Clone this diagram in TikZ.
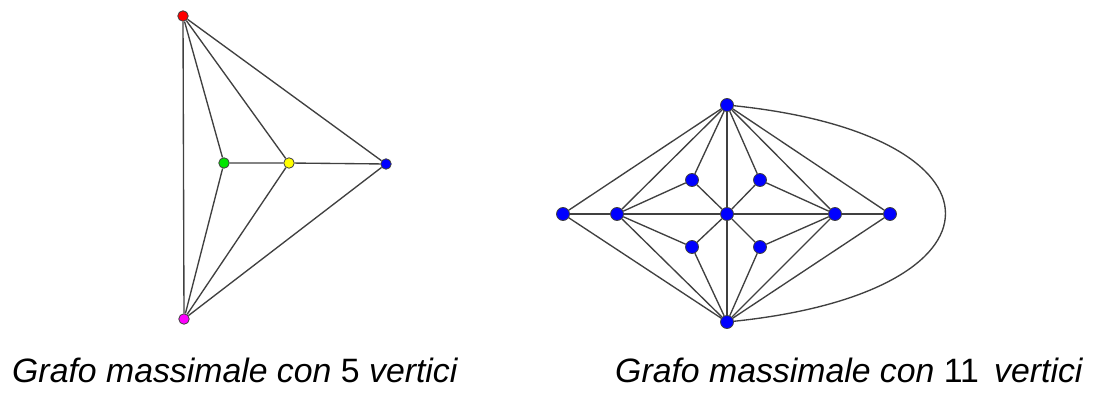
\documentclass[tikz,border=0pt]{standalone}
\usepackage{fontspec}
\setmainfont{Liberation Sans}
\usetikzlibrary{positioning}
\definecolor{EdgeGray}{RGB}{64, 64, 64}
\definecolor{VRed}{RGB}{255, 0, 0}
\definecolor{VGreen}{RGB}{0, 230, 0}
\definecolor{VYellow}{RGB}{255, 255, 0}
\definecolor{VBlue}{RGB}{0, 0, 255}
\definecolor{VMagenta}{RGB}{255, 0, 255}

\begin{document}
\begin{tikzpicture}[x=1pt, y=-1pt,
    vtx/.style={circle, draw=EdgeGray, line width=0.8pt, inner sep=0pt, minimum size=10.5pt},
    bigvtx/.style={vtx, fill=VBlue, minimum size=13pt},
    edge/.style={draw=EdgeGray, line width=1.35pt},
    caption/.style={anchor=base west, inner sep=0pt, font=\fontsize{33.8}{40}\selectfont\itshape}]
    \useasboundingbox (0,0) rectangle (1095,409);

    % grafo con 5 vertici
    \node[vtx, fill=VRed] (Rd) at (183,16) {};
    \node[vtx, fill=VMagenta] (Mg) at (184,319) {};
    \node[vtx, fill=VGreen] (Gr) at (224,163) {};
    \node[vtx, fill=VYellow] (Ye) at (289,163) {};
    \node[vtx, fill=VBlue] (Bl) at (386,164) {};

    \draw[edge] (Rd) -- (Mg);
    \foreach \v in {Gr, Ye, Bl} {
        \draw[edge] (Rd) -- (\v);
        \draw[edge] (Mg) -- (\v);
    }
    \draw[edge] (Gr) -- (Ye) -- (Bl);

    % grafo con 11 vertici
    \node[bigvtx] (N) at (727,105) {};
    \node[bigvtx] (S) at (727,322) {};
    \node[bigvtx] (W) at (563,214) {};
    \node[bigvtx] (W2) at (617,214) {};
    \node[bigvtx] (C) at (727,214) {};
    \node[bigvtx] (E2) at (835,214) {};
    \node[bigvtx] (E) at (890,214) {};
    \node[bigvtx] (NW) at (692,180) {};
    \node[bigvtx] (NE) at (760,180) {};
    \node[bigvtx] (SW) at (692,247) {};
    \node[bigvtx] (SE) at (760,247) {};

    \foreach \v in {W, W2, NW, C, NE, E2, E} \draw[edge] (N) -- (\v);
    \foreach \v in {W, W2, SW, C, SE, E2, E} \draw[edge] (S) -- (\v);
    \draw[edge] (W) -- (W2) -- (C) -- (E2) -- (E);
    \draw[edge] (W2) -- (NW) -- (C) -- (NE) -- (E2);
    \draw[edge] (W2) -- (SW) -- (C) -- (SE) -- (E2);
    \draw[edge] (N) .. controls (1016,135) and (1016,292) .. (S);

    \node[caption] (capA) at (12,382) {Grafo massimale con \textup{5} vertici};
    \node[caption] (capB) at (615,382) {Grafo massimale con \textup{11}\hspace{0.45em}vertici};
\end{tikzpicture}
\end{document}
